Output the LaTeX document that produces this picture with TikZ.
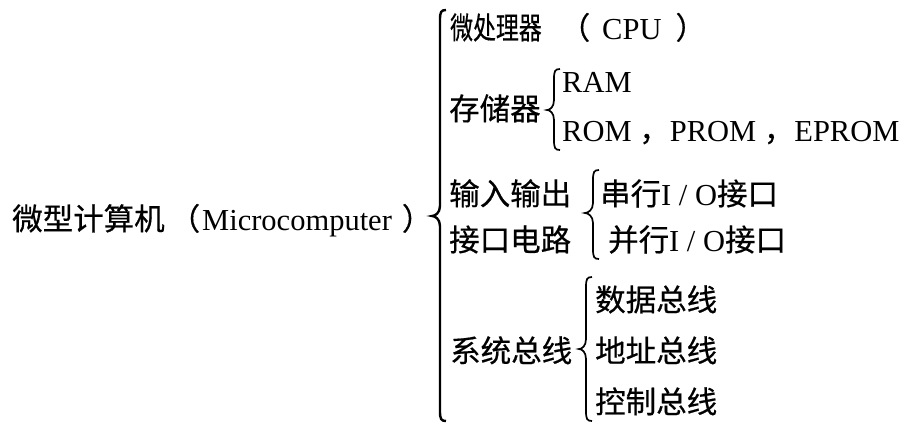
\documentclass[tikz,border=0pt]{standalone}
\usepackage{fontspec}
\usepackage{graphicx}
\setmainfont{Liberation Serif}
\newfontfamily\cjk[FakeBold=0.5]{Noto Sans CJK SC}
\newcommand\bracepath[6]{% style, x line, top, bottom, mid, tip x
  \draw[#1] (#2+6,#3) .. controls (#2+1,#3) and (#2,#3+2) .. (#2,#3+10)
    -- (#2,#5-10) .. controls (#2,#5-3) and (#6+3,#5) .. (#6,#5)
    .. controls (#6+3,#5) and (#2,#5+3) .. (#2,#5+10)
    -- (#2,#4-10) .. controls (#2,#4-2) and (#2+1,#4) .. (#2+6,#4);}
\begin{document}
\begin{tikzpicture}[x=1pt,y=-1pt,
  txt/.style={anchor=base west, inner sep=0pt, font=\fontsize{30.5}{36}\selectfont},
  bigbrace/.style={line width=2.4pt},
  smallbrace/.style={line width=1.7pt}]
\useasboundingbox (0,0) rectangle (905,423);
\node[txt] (main) at (12,230) {{\cjk 微型计算机}\hspace{5pt}{\cjk （}\hspace{2pt}Microcomputer\hspace{10pt}{\cjk ）}};
\node[txt] (cpu) at (450,39) {\scalebox{0.75}[1]{\cjk 微处理器}\hspace{18pt}{\cjk （}\hspace{12pt}CPU\hspace{14pt}{\cjk ）}};
\node[txt] (mem) at (449,120) {\cjk 存储器};
\node[txt] (ram) at (562,92) {RAM};
\node[txt] (rom) at (562,141) {ROM {\cjk ，}PROM {\cjk ，}EPROM};
\node[txt] (io1) at (449,205) {\cjk 输入输出};
\node[txt] (io2) at (449,251) {\cjk 接口电路};
\node[txt] (ser) at (600,205) {{\cjk 串行}I / O{\cjk 接口}};
\node[txt] (par) at (608,251) {{\cjk 并行}I / O{\cjk 接口}};
\node[txt] (bus) at (450,362) {\cjk 系统总线};
\node[txt] (dbus) at (595,311) {\cjk 数据总线};
\node[txt] (abus) at (595,362) {\cjk 地址总线};
\node[txt] (cbus) at (595,413) {\cjk 控制总线};
\bracepath{bigbrace}{440}{10}{421}{216}{432}
\bracepath{smallbrace}{554}{69}{150}{110}{547}
\bracepath{smallbrace}{593}{170}{259}{213}{585}
\bracepath{smallbrace}{586}{277}{421}{349}{579}
\end{tikzpicture}
\end{document}
